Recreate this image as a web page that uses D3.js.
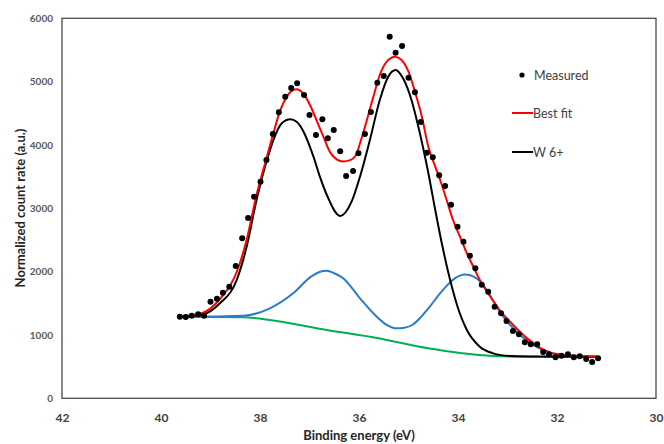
<!DOCTYPE html>
<html>
<head>
  <meta charset="UTF-8" />
  <title>W 4f fit</title>
  <script src="https://cdn.jsdelivr.net/npm/d3@7"></script>
  <style>
    body {
      margin: 0;
      padding: 0;
      background: #ffffff;
    }
    #chart text {
      font-family: 'Lato', 'Noto Sans', sans-serif;
    }
  </style>
</head>
<body>
  <div id="chart"></div>

  <script>
    // Measured points (binding energy in eV, normalized counts)
    const measuredEV = [39.62, 39.50, 39.38, 39.25, 39.13, 39.00, 38.87, 38.75, 38.62, 38.49,
      38.36, 38.24, 38.12, 37.99, 37.87, 37.74, 37.62, 37.49, 37.37, 37.25,
      37.11, 37.00, 36.87, 36.74, 36.63, 36.51, 36.38, 36.26, 36.12, 36.01,
      35.88, 35.76, 35.63, 35.50, 35.38, 35.26, 35.13, 35.00, 34.87, 34.75,
      34.63, 34.51, 34.38, 34.26, 34.14, 34.01, 33.89, 33.76, 33.65, 33.52,
      33.39, 33.26, 33.13, 33.02, 32.89, 32.77, 32.65, 32.53, 32.40, 32.28,
      32.16, 32.03, 31.91, 31.78, 31.66, 31.54, 31.41, 31.29, 31.17]
    const measuredCounts = [1288, 1284, 1304, 1326, 1304, 1525, 1573, 1667, 1762, 2089,
      2526, 2847, 3183, 3420, 3763, 4173, 4516, 4762, 4899, 4974,
      4789, 4473, 4157, 4405, 4105, 4236, 3900, 3510, 3589, 3868,
      4173, 4521, 4983, 5089, 5710, 5457, 5563, 5062, 4832, 4363,
      3878, 3805, 3521, 3352, 3057, 2709, 2473, 2252, 2053, 1794,
      1683, 1446, 1342, 1221, 1063, 1011, 884, 853, 853, 731,
      695, 647, 673, 695, 647, 663, 621, 573, 632]

    // Best fit (red)
    const fitEV = [39.62, 39.15, 38.81, 38.47, 38.27, 38.07, 37.86, 37.73, 37.60, 37.46,
      37.27, 37.13, 36.99, 36.86, 36.72, 36.59, 36.45, 36.32, 36.18, 36.05,
      35.98, 35.84, 35.71, 35.58, 35.44, 35.27, 35.14, 35.00, 34.87, 34.73,
      34.60, 34.46, 34.36, 34.23, 34.10, 33.96, 33.82, 33.69, 33.56, 33.42,
      33.29, 33.15, 32.95, 32.75, 32.61, 32.28, 31.94, 31.19]
    const fitCounts = [1288, 1352, 1568, 1994, 2500, 3210, 3815, 4184, 4526, 4762,
      4879, 4815, 4631, 4394, 4131, 3894, 3773, 3740, 3760, 3860,
      4026, 4394, 4762, 5105, 5315, 5394, 5342, 5157, 4841, 4447,
      3973, 3657, 3447, 3131, 2815, 2552, 2289, 2078, 1868, 1690,
      1540, 1380, 1210, 1050, 950, 770, 690, 657]

    // W 6+ component (black)
    const w6EV = [39.62, 39.15, 38.81, 38.47, 38.27, 38.07, 37.86, 37.73, 37.56, 37.39,
      37.26, 37.12, 36.92, 36.79, 36.65, 36.38, 36.15, 35.98, 35.78, 35.58,
      35.41, 35.26, 35.11, 34.94, 34.77, 34.61, 34.46, 34.32, 34.16, 34.02,
      33.82, 33.56, 33.29, 32.95, 32.55, 31.19]
    const w6Counts = [1288, 1326, 1500, 1868, 2394, 3131, 3763, 4078, 4342, 4405,
      4367, 4210, 3815, 3499, 3210, 2878, 3104, 3499, 4078, 4710,
      5078, 5184, 5052, 4710, 4184, 3600, 2975, 2420, 1870, 1473,
      1078, 815, 710, 668, 660, 657]

    // Second doublet component (blue)
    const blueEV = [39.56, 39.35, 38.34, 37.80, 37.33, 36.97, 36.80, 36.65, 36.50, 36.32,
      35.98, 35.64, 35.44, 35.24, 35.08, 34.91, 34.74, 34.57, 34.40, 34.23,
      34.05, 33.86, 33.68, 33.50, 33.32, 33.15, 32.95, 32.75, 32.55, 32.28,
      31.94, 31.19]
    const blueCounts = [1288, 1288, 1304, 1421, 1658, 1920, 1995, 2015, 1975, 1895,
      1579, 1288, 1160, 1105, 1115, 1165, 1290, 1446, 1620, 1775,
      1900, 1955, 1920, 1800, 1580, 1360, 1160, 1000, 880, 763,
      684, 657]

    // Background (green)
    const bgEV = [39.56, 38.34, 37.80, 36.65, 35.64, 34.63, 33.96, 33.29, 32.61, 31.19]
    const bgCounts = [1288, 1279, 1236, 1078, 952, 794, 715, 668, 657, 657]

    const xTicks = [42, 40, 38, 36, 34, 32, 30]
    const yTicks = [0, 1000, 2000, 3000, 4000, 5000, 6000]

    const width = 664
    const height = 444
    const plot = { left: 62, right: 656, top: 18.3, bottom: 398.3 }

    const svg = d3
      .select('#chart')
      .append('svg')
      .attr('width', width)
      .attr('height', height)

    const x = d3.scaleLinear().domain([42, 30]).range([plot.left, plot.right])
    const y = d3.scaleLinear().domain([0, 6000]).range([plot.bottom, plot.top])

    // Frame round the plot area
    svg
      .append('rect')
      .attr('x', plot.left)
      .attr('y', plot.top)
      .attr('width', plot.right - plot.left)
      .attr('height', plot.bottom - plot.top)
      .attr('fill', 'none')
      .attr('stroke', '#4a4a4a')
      .attr('stroke-width', 1.3)

    // Axes (labels only, no tick marks)
    const yAxis = svg
      .append('g')
      .attr('transform', `translate(${plot.left},0)`)
      .call(d3.axisLeft(y).tickValues(yTicks).tickSize(0).tickPadding(9).tickFormat(d3.format('d')))
    yAxis.select('.domain').remove()
    yAxis
      .selectAll('text')
      .attr('font-size', 10)
      .attr('font-weight', 'bold')
      .attr('fill', '#595959')

    const xAxis = svg
      .append('g')
      .attr('transform', `translate(0,${plot.bottom})`)
      .call(d3.axisBottom(x).tickValues(xTicks).tickSize(0).tickPadding(15).tickFormat(d3.format('d')))
    xAxis.select('.domain').remove()
    xAxis
      .selectAll('text')
      .attr('font-size', 12)
      .attr('font-weight', 'bold')
      .attr('fill', '#404040')

    // Axis titles
    svg
      .append('text')
      .attr('x', (plot.left + plot.right) / 2)
      .attr('y', 440)
      .attr('text-anchor', 'middle')
      .attr('font-size', 13)
      .attr('font-weight', 'bold')
      .attr('fill', '#262626')
      .text('Binding energy (eV)')

    svg
      .append('text')
      .attr('transform', 'translate(25,208) rotate(-90)')
      .attr('text-anchor', 'middle')
      .attr('font-size', 13)
      .attr('font-weight', 'bold')
      .attr('fill', '#262626')
      .text('Normalized count rate (a.u.)')

    // Lines
    const line = d3
      .line()
      .x((d) => x(d[0]))
      .y((d) => y(d[1]))
      .curve(d3.curveMonotoneX)

    const series = [
      { ev: bgEV, counts: bgCounts, color: '#00b050' },
      { ev: blueEV, counts: blueCounts, color: '#2a7bc8' },
      { ev: w6EV, counts: w6Counts, color: '#000000' },
      { ev: fitEV, counts: fitCounts, color: '#ff0000' },
    ]

    series.forEach((s) => {
      svg
        .append('path')
        .datum(d3.zip(s.ev, s.counts))
        .attr('d', line)
        .attr('fill', 'none')
        .attr('stroke', s.color)
        .attr('stroke-width', 2)
        .attr('stroke-linejoin', 'round')
    })

    // Measured points
    svg
      .append('g')
      .selectAll('circle')
      .data(d3.zip(measuredEV, measuredCounts))
      .enter()
      .append('circle')
      .attr('cx', (d) => x(d[0]))
      .attr('cy', (d) => y(d[1]))
      .attr('r', 3)
      .attr('fill', '#000000')

    // Legend
    const legend = svg.append('g').attr('font-size', 12.5).attr('fill', '#404040')
    legend.append('circle').attr('cx', 522).attr('cy', 75).attr('r', 2.6).attr('fill', '#000')
    legend.append('text').attr('x', 534).attr('y', 79.5).text('Measured')

    legend
      .append('line')
      .attr('x1', 512).attr('x2', 533).attr('y1', 113).attr('y2', 113)
      .attr('stroke', '#ff0000').attr('stroke-width', 2)
    legend.append('text').attr('x', 533).attr('y', 117.5).text('Best fit')

    legend
      .append('line')
      .attr('x1', 512).attr('x2', 533).attr('y1', 152).attr('y2', 152)
      .attr('stroke', '#000000').attr('stroke-width', 2)
    legend.append('text').attr('x', 533).attr('y', 156.5).text('W 6+')
  </script>
</body>
</html>
